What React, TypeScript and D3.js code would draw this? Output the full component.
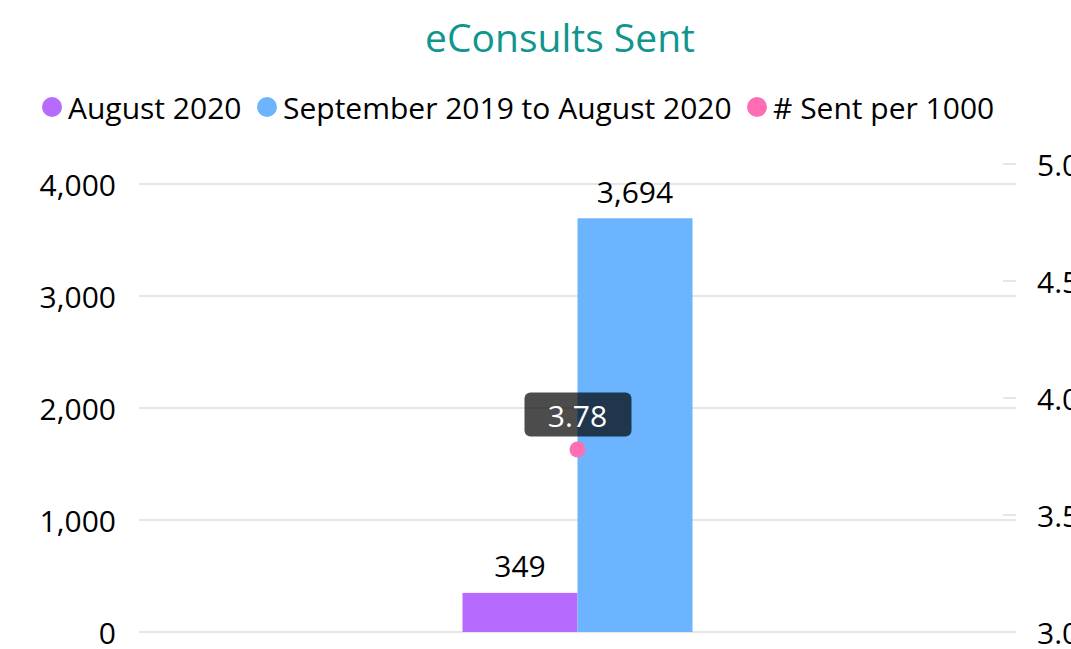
import React from "react";
import * as d3 from "d3";

const categories = ["eConsults"];
const seriesNames = ["August 2020", "September 2019 to August 2020"];
const augustValues = [349];
const yearValues = [3694];
const perThousand = [3.78];
const leftTicks = [0, 1000, 2000, 3000, 4000];
const rightTicks = [3.0, 3.5, 4.0, 4.5, 5.0];
const legendLabels = ["August 2020", "September 2019 to August 2020", "# Sent per 1000"];
const colors = ["#b66afe", "#6cb4fe", "#ff6eb4"];

const W = 1071;
const H = 649;
const FONT = "'Open Sans', sans-serif";
const FS = 30;

export default function App() {
  const left = 139;
  const right = 1016;
  const yL = d3.scaleLinear().domain([0, 4000]).range([632, 184]);
  const yR = d3.scaleLinear().domain([3, 5]).range([632, 164]);
  const x0 = d3.scaleBand().domain(categories).range([left, right]).paddingInner(0).paddingOuter(1.4065);
  const x1 = d3.scaleBand().domain(seriesNames).range([0, x0.bandwidth()]);
  const fmt = d3.format(",");
  const legendX = [52, 267, 757];

  return (
    <div style={{ position: "fixed", left: 0, top: 0 }}>
      <svg width={W} height={H} style={{ display: "block", background: "#fff" }}>
        <text x={560} y={36} textAnchor="middle" dominantBaseline="central" fill="#10958f" fontFamily={FONT} fontSize={39}>
          eConsults Sent
        </text>
        {legendLabels.map((l, i) => (
          <g key={l}>
            <circle cx={legendX[i]} cy={107} r={10} fill={colors[i]} />
            <text x={legendX[i] + 16} y={107} dominantBaseline="central" fontFamily={FONT} fontSize={FS} fill="#000">
              {l}
            </text>
          </g>
        ))}
        {leftTicks.map((t) => (
          <g key={"l" + t}>
            <line x1={left} x2={right} y1={yL(t)} y2={yL(t)} stroke="#e6e6e6" strokeWidth={2} />
            <text x={116} y={yL(t)} textAnchor="end" dominantBaseline="central" fontFamily={FONT} fontSize={FS} fill="#000">
              {fmt(t)}
            </text>
          </g>
        ))}
        {rightTicks.map((t) => (
          <g key={"r" + t}>
            <line x1={1003} x2={right} y1={yR(t)} y2={yR(t)} stroke="#e6e6e6" strokeWidth={2} />
            <text x={1037} y={yR(t)} dominantBaseline="central" fontFamily={FONT} fontSize={FS} fill="#000">
              {t.toFixed(1)}
            </text>
          </g>
        ))}
        {categories.map((c, ci) => {
          const base = x0(c)!;
          const vals = [augustValues[ci], yearValues[ci]];
          const cx = base + x0.bandwidth() / 2;
          return (
            <g key={c}>
              {vals.map((v, si) => {
                const bx = base + x1(seriesNames[si])!;
                return (
                  <g key={si}>
                    <rect x={bx} y={yL(v)} width={x1.bandwidth()} height={yL(0) - yL(v)} fill={colors[si]} />
                    <text x={bx + x1.bandwidth() / 2} y={yL(v) - 27} textAnchor="middle" dominantBaseline="central" fontFamily={FONT} fontSize={FS} fill="#000">
                      {fmt(v)}
                    </text>
                  </g>
                );
              })}
              <circle cx={cx} cy={yR(perThousand[ci])} r={8} fill={colors[2]} />
              <rect x={cx - 53} y={yR(perThousand[ci]) - 57} width={107} height={44} rx={6} fill="rgba(0,0,0,0.7)" />
              <text x={cx} y={yR(perThousand[ci]) - 34} textAnchor="middle" dominantBaseline="central" fontFamily={FONT} fontSize={FS} fill="#fff">
                {perThousand[ci].toFixed(2)}
              </text>
            </g>
          );
        })}
      </svg>
    </div>
  );
}
